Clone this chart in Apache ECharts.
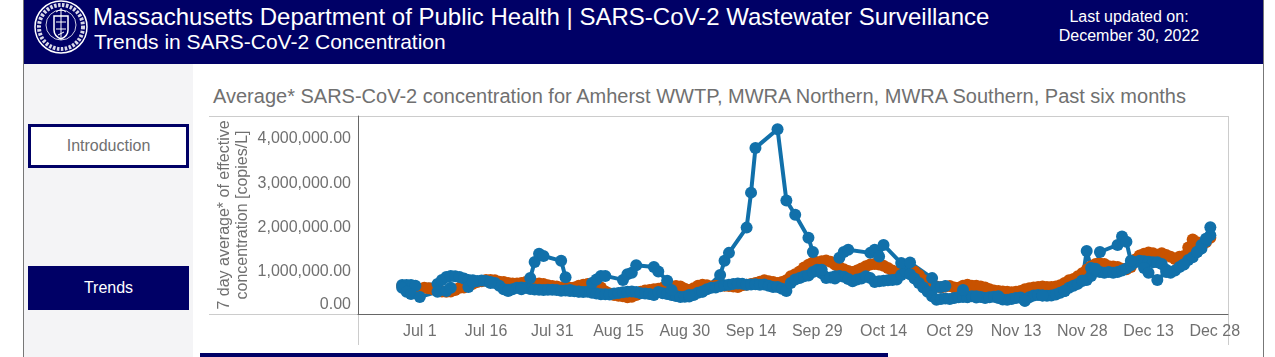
<!DOCTYPE html>
<html><head><meta charset="utf-8">
<script src="https://cdn.jsdelivr.net/npm/echarts@6/dist/echarts.min.js"></script>
<style>
html,body{margin:0;padding:0;background:#fff;overflow:hidden;width:1275px;height:357px;font-family:"Liberation Sans",Arial,sans-serif}
.a{position:absolute}
.t{position:absolute;white-space:nowrap;line-height:1}
</style></head><body>
<div class="a" style="left:23px;top:0;width:1px;height:357px;background:#777"></div>
<div class="a" style="left:1263px;top:0;width:1px;height:357px;background:#777"></div>
<div class="a" style="left:24px;top:64px;width:169px;height:293px;background:#f4f4f6"></div>
<div class="a" style="left:24px;top:0;width:1239px;height:64px;background:#000066"></div>
<svg class="a" style="left:34px;top:0" width="56" height="56" viewBox="0 0 56 56">
<g fill="none" stroke="#fff">
<circle cx="27" cy="27" r="26" stroke-width="1.5"/>
<circle cx="27" cy="27" r="22" stroke-width="4" stroke-dasharray="2.5 1.5" stroke-opacity=".85"/>
<circle cx="27" cy="25" r="15" stroke-width=".8"/>
<path d="M20 16h14v14q0 6-7 9q-7-3-7-9z" stroke-width="1.5"/>
<path d="M27 8v30M22 22h10M22 29h10M24 35l6-3M22 12q5-4 10 0" stroke-width="1"/>
</g></svg>
<div class="t" style="left:93px;top:5px;font-size:24px;color:#fff">Massachusetts Department of Public Health | SARS-CoV-2 Wastewater Surveillance</div>
<div class="t" style="left:94px;top:31px;font-size:21px;color:#fff">Trends in SARS-CoV-2 Concentration</div>
<div class="t" style="left:1029px;width:200px;text-align:center;top:9px;font-size:16px;color:#fff">Last updated on:</div>
<div class="t" style="left:1029px;width:200px;text-align:center;top:28px;font-size:16px;color:#fff">December 30, 2022</div>
<div class="a" style="left:28px;top:124px;width:155px;height:38px;border:3px solid #000066;background:#fff"></div>
<div class="t" style="left:28px;width:161px;text-align:center;top:138px;font-size:16px;color:#707070">Introduction</div>
<div class="a" style="left:28px;top:266px;width:161px;height:44px;background:#000066"></div>
<div class="t" style="left:28px;width:161px;text-align:center;top:280px;font-size:16px;color:#fff">Trends</div>
<div class="t" style="left:213px;top:86px;font-size:20px;color:#707070">Average* SARS-CoV-2 concentration for Amherst WWTP, MWRA Northern, MWRA Southern, Past six months</div>
<div class="a" style="left:209px;top:116px;width:1019px;height:1px;background:#ccc"></div>
<div class="a" style="left:209px;top:314px;width:149px;height:1px;background:#ccc"></div>
<div class="a" style="left:358px;top:315px;width:1px;height:30px;background:#ccc"></div>
<div class="a" style="left:1228px;top:116px;width:1px;height:229px;background:#ccc"></div>
<div class="a" style="left:200px;top:353px;width:688px;height:4px;background:#000066"></div>
<div id="c" class="a" style="left:0;top:0;width:1275px;height:357px"></div>
<script>
const firstDay = '2022-06-17';
const dayCount = 198;
const tickLabels = ['Jul 1','Jul 16','Jul 31','Aug 15','Aug 30','Sep 14','Sep 29','Oct 14','Oct 29','Nov 13','Nov 28','Dec 13','Dec 28'];
const seriesStart = 'Jun 27';
// daily values, thousand copies/L, beginning at seriesStart; null = no reading
const southernK = [655,655,655,640,null,null,null,null,680,770,836,860,850,836,800,770,760,745,755,745,725,700,640,560,545,560,590,600,590,565,555,545,540,550,550,540,525,530,520,515,500,495,500,480,460,445,445,440,460,475,490,505,510,495,470,465,450,430,495,470,450,430,405,385,390,395,430,480,510,560,590,600,625,650,660,680,690,685,660,665,670,660,665,640,610,610,570,520,700,780,810,850,870,950,1000,920,810,825,850,860,840,790,740,780,800,850,810,720,740,750,760,770,780,880,960,900,800,700,600,500,400,320,340,350,340,360,380,385,380,400,370,385,360,380,390,360,330,320,340,360,370,300,380,420,430,420,410,420,440,480,520,590,640,680,750,770,860,980,950,930,950,930,950,980,1030,1100,1170,1200,1190,1180,1170,1170,1130,1000,930,980,1060,1120,1220,1280,1400,1480,1640,1780];
const northernK = [640,600,560,540,560,590,580,560,530,510,500,510,540,590,600,650,680,720,740,770,770,760,730,720,700,690,690,700,720,700,680,690,680,650,630,620,600,590,590,600,640,660,680,690,660,600,510,460,430,410,400,380,390,430,500,530,540,560,570,590,600,620,630,620,570,540,580,640,660,650,620,640,650,640,630,620,610,650,660,680,700,730,760,740,720,700,720,760,850,900,960,1050,1110,1160,1170,1190,1210,1180,1120,1060,1010,970,950,980,1030,1080,1120,1130,1120,1090,1040,980,950,1000,1010,1000,960,880,770,690,640,620,600,620,630,600,590,640,660,640,640,620,600,560,530,520,510,500,490,500,520,560,580,600,610,620,610,610,620,650,700,760,790,850,920,1000,1070,1130,1140,1130,1080,1070,1060,1020,1010,1060,1230,1320,1360,1390,1370,1340,1370,1330,1290,1240,1290,1310,1500,1680,1620,1560,1620,1720];
const amherstDates = ['Jun 27','Jun 28','Jun 29','Jul 1','Jul 5','Jul 7','Jul 8','Jul 12','Jul 13','Jul 17','Jul 21','Jul 24','Jul 26','Jul 27','Jul 28','Jul 29','Aug 2','Aug 3','Aug 4','Aug 6','Aug 9','Aug 10','Aug 11','Aug 12','Aug 16','Aug 17','Aug 18','Aug 19','Aug 23','Aug 24','Aug 26','Aug 27','Aug 31','Sep 3','Sep 7','Sep 8','Sep 9','Sep 13','Sep 14','Sep 15','Sep 20','Sep 22','Sep 24','Sep 27','Sep 28','Sep 30','Oct 3','Oct 4','Oct 5','Oct 6','Oct 11','Oct 12','Oct 13','Oct 14','Oct 18','Oct 20','Oct 25','Oct 26','Oct 27','Oct 28','Nov 1','Nov 4','Nov 9','Nov 15','Nov 19','Nov 24','Nov 28','Nov 29','Nov 30','Dec 1','Dec 2','Dec 6','Dec 7','Dec 8','Dec 9','Dec 12','Dec 13','Dec 15','Dec 17','Dec 21','Dec 24','Dec 25','Dec 26','Dec 27'];
const amherstK = [590,500,450,385,500,520,590,610,720,700,520,560,815,1175,1360,1310,1200,830,540,510,700,780,860,860,770,900,930,1100,1060,960,750,540,430,500,880,1200,1380,1950,2740,3750,4170,2560,2240,1720,1400,1000,800,1270,1400,1450,1380,1450,1300,1560,1150,1160,810,610,610,630,540,400,400,300,420,520,750,1420,1040,1020,1400,1560,1750,1630,1200,1040,930,770,950,1120,1400,1560,1700,1960];

const months = ['Jan','Feb','Mar','Apr','May','Jun','Jul','Aug','Sep','Oct','Nov','Dec'];
const categories = [];
const d0 = new Date(firstDay + 'T12:00:00Z');
for (let i = 0; i < dayCount; i++) {
  const d = new Date(d0.getTime() + i * 864e5);
  categories.push(months[d.getUTCMonth()] + ' ' + d.getUTCDate());
}
const startIdx = categories.indexOf(seriesStart);
const pairs = (vals) => vals.map((v, i) => [categories[startIdx + i], v === null ? null : v * 1000]);
const base = (name, color, data) => ({
  name, type: 'line', data, connectNulls: true, symbol: 'circle', symbolSize: 12, showSymbol: true, showAllSymbol: true,
  lineStyle: {color, width: 4}, itemStyle: {color}, animation: false, silent: true
});
const fmt = v => {
  const s = v.toLocaleString('en-US', {minimumFractionDigits: 2, maximumFractionDigits: 2});
  return v === 0 ? '{z|' + s + '}' : '{n|' + s + '}';
};
const chart = echarts.init(document.getElementById('c'), null, {renderer: 'canvas'});
const gray = '#707070';
const lbl = {color: gray, fontSize: 16, fontFamily: 'Liberation Sans'};
chart.setOption({
  backgroundColor: 'transparent',
  animation: false,
  grid: {left: 358, top: 116, width: 870, height: 198, containLabel: false},
  xAxis: {
    type: 'category', data: categories, boundaryGap: false,
    axisLine: {show: true, lineStyle: {color: '#666', width: 1}},
    axisTick: {show: false},
    axisLabel: {
      color: gray, fontSize: 16, fontFamily: 'Liberation Sans', margin: 10, hideOverlap: false,
      interval: (i, name) => tickLabels.includes(name)
    },
    splitLine: {show: false}
  },
  yAxis: {
    type: 'value', min: 0, max: 4470000, interval: 1000000,
    name: '7 day average* of effective\nconcentration [copies/L]',
    nameLocation: 'middle', nameRotate: 90, nameGap: 106, nameMoveOverlap: false,
    nameTextStyle: {color: gray, fontSize: 16, fontFamily: 'Liberation Sans', lineHeight: 18},
    axisLine: {show: true, lineStyle: {color: '#666', width: 1}},
    axisTick: {show: false},
    splitLine: {show: false},
    axisLabel: {color: gray, fontSize: 16, fontFamily: 'Liberation Sans', margin: 7,
      verticalAlign: 'top', showMaxLabel: false, verticalAlignMinLabel: 'bottom', formatter: fmt,
      rich: {n: {...lbl, lineHeight: 4}, z: {...lbl, lineHeight: 18}}}
  },
  series: [
    base('MWRA Northern', '#c85200', pairs(northernK)),
    base('MWRA Southern', '#1170aa', pairs(southernK)),
    base('Amherst WWTP', '#1170aa', amherstDates.map((d, i) => [d, amherstK[i] * 1000]))
  ]
});
</script>
</body></html>
